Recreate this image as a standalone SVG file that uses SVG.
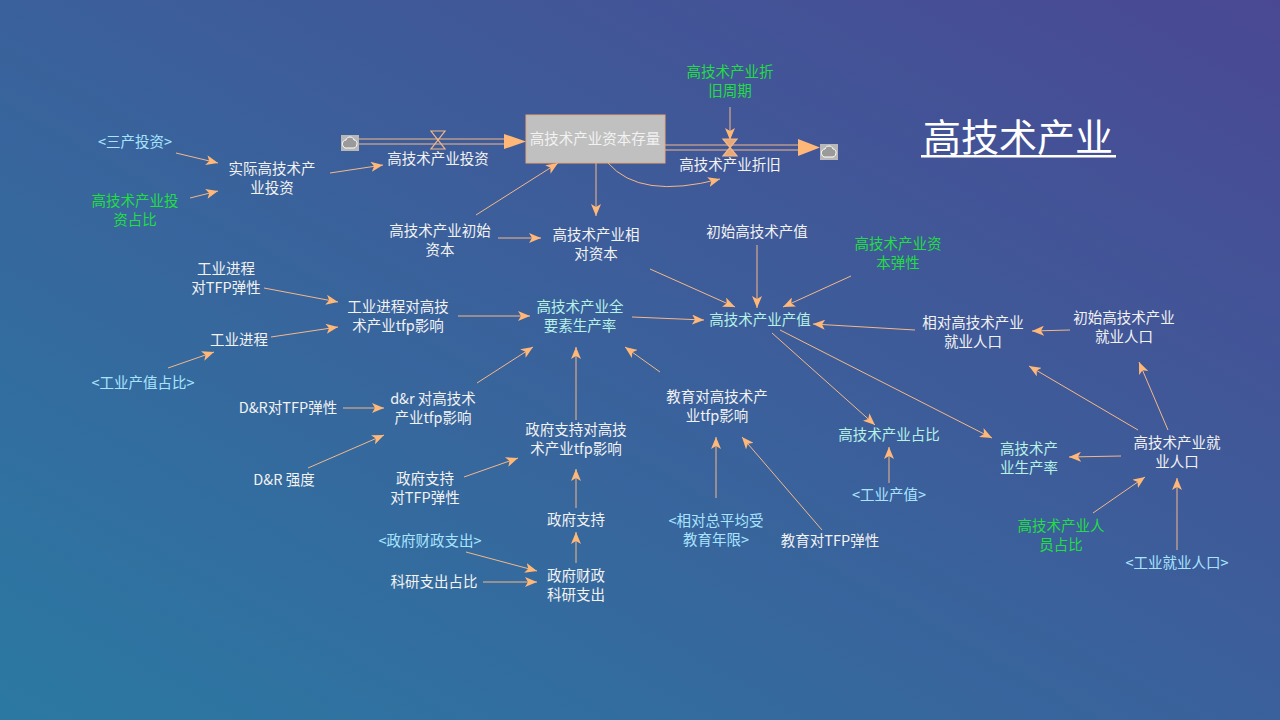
<svg xmlns="http://www.w3.org/2000/svg" width="1280" height="720" viewBox="0 0 1280 720">
<defs>
<linearGradient id="bg" x1="0" y1="1" x2="1" y2="0">
<stop offset="0" stop-color="#2b79a3"/>
<stop offset="1" stop-color="#4a4893"/>
</linearGradient>
<marker id="ah" viewBox="0 0 12 10" refX="12" refY="5" markerWidth="12" markerHeight="10" markerUnits="userSpaceOnUse" orient="auto">
<path d="M0,0 L12,5 L0,10 L3,5 Z" fill="#ffb878"/>
</marker>
<g id="cloud">
<rect x="-9" y="-8" width="18" height="16" fill="#b8b8b8"/>
<path d="M-5,5 C-9,3 -8,-3 -4,-3 C-3,-7 3,-7 4,-3 C8,-3 8,4 4,5 Z" fill="#9a9a9a" stroke="#ffffff" stroke-width="1"/>
</g>
</defs>
<style>
text{font-family:"Noto Sans CJK SC","Liberation Sans",sans-serif;font-size:14.5px;text-anchor:middle}
.w{fill:#f2f2f2}
.c{fill:#a8e4ff}
.t{fill:#b6f2e6}
.g{fill:#22dd44}
.l{fill:none;stroke:#f4b888;stroke-width:1;marker-end:url(#ah)}
.p{fill:none;stroke:#f4b888;stroke-width:1.2}
</style>
<rect width="1280" height="720" fill="url(#bg)"/>

<g id="connectors">
<path class="p" d="M358,139 H506 M358,144 H506"/>
<path d="M504,134 L526,141.5 L504,149 Z" fill="#ffb878"/>
<path class="p" d="M665,145 H800 M665,150 H800"/>
<path d="M798,139 L820,147.5 L798,156 Z" fill="#ffb878"/>
<path class="l" d="M176,153 L218,163"/>
<path class="l" d="M190,198 L218,191"/>
<path class="l" d="M330,173 L383,165"/>
<path class="l" d="M730,107 L730,140"/>
<path class="l" d="M608,163 Q640,200 720,179"/>
<path class="l" d="M476,215 L558,163"/>
<path class="l" d="M498,238 L541,238"/>
<path class="l" d="M596,163 L596,216"/>
<path class="l" d="M757,245 L757,308"/>
<path class="l" d="M851,276 L783,307"/>
<path class="l" d="M650,269 L735,307"/>
<path class="l" d="M632,317 L704,320"/>
<path class="l" d="M264,288 L338,302"/>
<path class="l" d="M458,316 L530,316"/>
<path class="l" d="M271,337 L338,327"/>
<path class="l" d="M168,368 L214,352"/>
<path class="l" d="M915,330 L813,324"/>
<path class="l" d="M1070,330 L1032,331"/>
<path class="l" d="M1138,430 L1029,366"/>
<path class="l" d="M1168,430 L1139,362"/>
<path class="l" d="M1121,456 L1069,457"/>
<path class="l" d="M1093,513 L1145,477"/>
<path class="l" d="M1177,550 L1177,478"/>
<path class="l" d="M772,333 L875,425"/>
<path class="l" d="M780,330 L992,438"/>
<path class="l" d="M889,483 L889,447"/>
<path class="l" d="M660,372 L625,347"/>
<path class="l" d="M716,498 L716,437"/>
<path class="l" d="M822,530 L742,437"/>
<path class="l" d="M477,383 L533,347"/>
<path class="l" d="M343,408 L384,408"/>
<path class="l" d="M308,468 L384,435"/>
<path class="l" d="M576,420 L576,347"/>
<path class="l" d="M464,477 L518,458"/>
<path class="l" d="M576,508 L576,469"/>
<path class="l" d="M466,552 L537,571"/>
<path class="l" d="M483,582 L537,582"/>
<path class="l" d="M576,563 L576,532"/>
</g>

<g id="cloud-in"><use href="#cloud" x="350" y="143"/></g>
<g id="cloud-out"><use href="#cloud" x="829" y="152"/></g>

<g id="stock">
<rect x="526" y="115" width="139" height="48" fill="#c0c0c0" stroke="#e8a878" stroke-width="1"/>
<text class="w" x="595" y="144">高技术产业资本存量</text>
</g>

<g id="flow-invest">
<path d="M431,131 L445,131 L431,149 L445,149 Z" fill="none" stroke="#f4b888" stroke-width="1.2"/>
<text class="w" x="438" y="164">高技术产业投资</text>
</g>
<g id="flow-dep">
<path d="M723,139 L737,139 L723,156 L737,156 Z" fill="#e8a878" stroke="#f4b888" stroke-width="1.2"/>
<text class="w" x="730" y="170">高技术产业折旧</text>
</g>

<g id="n-depperiod"><text class="g" x="730" y="77">高技术产业折</text><text class="g" x="730" y="96">旧周期</text></g>
<g id="n-sancan"><text class="c" x="135" y="147">&lt;三产投资&gt;</text></g>
<g id="n-actual"><text class="w" x="272" y="174">实际高技术产</text><text class="w" x="272" y="193">业投资</text></g>
<g id="n-investshare"><text class="g" x="135" y="206">高技术产业投</text><text class="g" x="135" y="225">资占比</text></g>
<g id="n-initcap"><text class="w" x="440" y="236">高技术产业初始</text><text class="w" x="440" y="255">资本</text></g>
<g id="n-relcap"><text class="w" x="596" y="240">高技术产业相</text><text class="w" x="596" y="259">对资本</text></g>
<g id="n-initout"><text class="w" x="757" y="237">初始高技术产值</text></g>
<g id="n-capel"><text class="g" x="898" y="249">高技术产业资</text><text class="g" x="898" y="268">本弹性</text></g>
<g id="n-output"><text class="t" x="760" y="325">高技术产业产值</text></g>
<g id="n-tfp"><text class="t" x="580" y="312">高技术产业全</text><text class="t" x="580" y="331">要素生产率</text></g>
<g id="n-indel"><text class="w" x="226" y="274">工业进程</text><text class="w" x="226" y="293">对TFP弹性</text></g>
<g id="n-indeff"><text class="w" x="398" y="312">工业进程对高技</text><text class="w" x="398" y="331">术产业tfp影响</text></g>
<g id="n-ind"><text class="w" x="239" y="345">工业进程</text></g>
<g id="n-indshare"><text class="c" x="143" y="388">&lt;工业产值占比&gt;</text></g>
<g id="n-relemp"><text class="w" x="973" y="328">相对高技术产业</text><text class="w" x="973" y="347">就业人口</text></g>
<g id="n-initemp"><text class="w" x="1124" y="323">初始高技术产业</text><text class="w" x="1124" y="342">就业人口</text></g>
<g id="n-emp"><text class="w" x="1177" y="448">高技术产业就</text><text class="w" x="1177" y="467">业人口</text></g>
<g id="n-prod"><text class="t" x="1029" y="454">高技术产</text><text class="t" x="1029" y="473">业生产率</text></g>
<g id="n-empshare"><text class="g" x="1061" y="531">高技术产业人</text><text class="g" x="1061" y="550">员占比</text></g>
<g id="n-indemp"><text class="c" x="1177" y="568">&lt;工业就业人口&gt;</text></g>
<g id="n-share"><text class="t" x="889" y="440">高技术产业占比</text></g>
<g id="n-indout"><text class="c" x="889" y="500">&lt;工业产值&gt;</text></g>
<g id="n-edueff"><text class="w" x="717" y="402">教育对高技术产</text><text class="w" x="717" y="421">业tfp影响</text></g>
<g id="n-edu"><text class="c" x="716" y="526">&lt;相对总平均受</text><text class="c" x="716" y="545">教育年限&gt;</text></g>
<g id="n-eduel"><text class="w" x="830" y="546">教育对TFP弹性</text></g>
<g id="n-drteff"><text class="w" x="433" y="404">d&amp;r 对高技术</text><text class="w" x="433" y="423">产业tfp影响</text></g>
<g id="n-drel"><text class="w" x="288" y="413">D&amp;R对TFP弹性</text></g>
<g id="n-drint"><text class="w" x="284" y="485">D&amp;R 强度</text></g>
<g id="n-goveff"><text class="w" x="576" y="435">政府支持对高技</text><text class="w" x="576" y="454">术产业tfp影响</text></g>
<g id="n-govel"><text class="w" x="425" y="484">政府支持</text><text class="w" x="425" y="503">对TFP弹性</text></g>
<g id="n-gov"><text class="w" x="576" y="525">政府支持</text></g>
<g id="n-fiscal"><text class="c" x="430" y="546">&lt;政府财政支出&gt;</text></g>
<g id="n-rdshare"><text class="w" x="434" y="587">科研支出占比</text></g>
<g id="n-govrd"><text class="w" x="576" y="581">政府财政</text><text class="w" x="576" y="600">科研支出</text></g>

<g id="title">
<text x="1018" y="151" style="font-size:38px;fill:#ffffff">高技术产业</text>
<rect x="921" y="155" width="195" height="2.5" fill="#ffffff"/>
</g>
</svg>
